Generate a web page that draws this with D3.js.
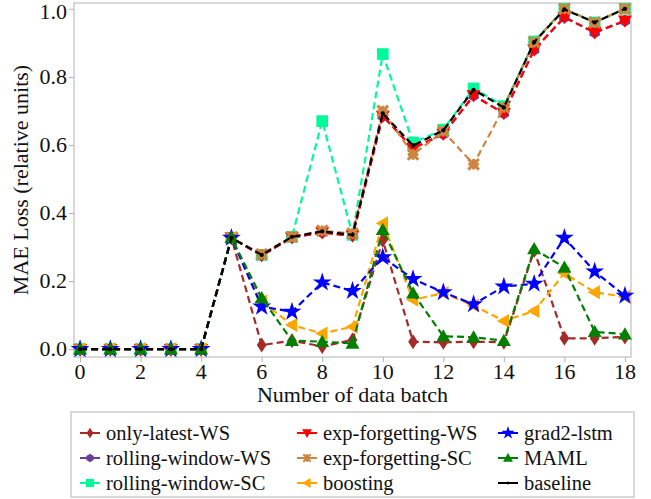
<!DOCTYPE html>
<html>
<head>
<meta charset="utf-8">
<script src="https://cdn.jsdelivr.net/npm/d3@7"></script>
<style>
  html, body { margin: 0; padding: 0; background: #fff; }
  svg { display: block; }
</style>
</head>
<body>
<svg id="chart" width="651" height="499"></svg>
<script>
// ---------- data ----------
const batches = [0,1,2,3,4,5,6,7,8,9,10,11,12,13,14,15,16,17,18];
const xTicks = [0,2,4,6,8,10,12,14,16,18];
const yTicks = [0.0,0.2,0.4,0.6,0.8,1.0];

const onlyLatestWS     = [0,0,0,0,0,0.327,0.012,0.025,0.008,0.027,0.32,0.022,0.02,0.022,0.02,0.29,0.032,0.032,0.036];
const rollingWindowWS  = [0,0,0,0,0,0.327,0.275,0.328,0.343,0.333,0.685,0.59,0.632,0.745,0.693,0.88,0.975,0.93,0.965];
const rollingWindowSC  = [0,0,0,0,0,0.327,0.277,0.33,0.67,0.336,0.867,0.607,0.645,0.766,0.714,0.904,1.0,0.96,1.0];
const expForgettingWS  = [0,0,0,0,0,0.327,0.275,0.328,0.343,0.333,0.685,0.59,0.632,0.745,0.693,0.88,0.975,0.93,0.965];
const expForgettingSC  = [0,0,0,0,0,0.327,0.279,0.33,0.348,0.34,0.70,0.572,0.64,0.543,0.71,0.902,1.0,0.96,1.0];
const boosting         = [0,0,0,0,0,0.327,0.14,0.071,0.046,0.066,0.37,0.145,0.165,0.128,0.083,0.112,0.223,0.167,0.154];
const grad2lstm        = [0,0,0,0,0,0.327,0.125,0.11,0.196,0.171,0.27,0.206,0.167,0.132,0.184,0.192,0.327,0.228,0.157];
const maml             = [0,0,0,0,0,0.327,0.15,0.025,0.022,0.017,0.351,0.164,0.038,0.035,0.025,0.294,0.24,0.051,0.044];
const baseline         = [0,0,0,0,0,0.327,0.277,0.33,0.346,0.336,0.693,0.598,0.643,0.762,0.71,0.902,0.998,0.96,1.0];

const seriesNames = ["only-latest-WS","rolling-window-WS","rolling-window-SC","exp-forgetting-WS",
                     "exp-forgetting-SC","boosting","grad2-lstm","MAML","baseline"];
const seriesValues = [onlyLatestWS, rollingWindowWS, rollingWindowSC, expForgettingWS,
                      expForgettingSC, boosting, grad2lstm, maml, baseline];
const seriesColors = ["#a52a2a","#6a3d9a","#00fa9a","#ff0000","#cd853f","#ffa500","#0000ff","#008000","#000000"];
const seriesMarkers = ["thinDiamond","pentagon","square","triangleDown","asterisk","triangleLeft","star","triangleUp","circle"];

const svg = d3.select("#chart");
function label(xp, yp, str, anchor, dy, fs) {
  return svg.append("text").attr("x", xp).attr("y", yp).attr("dy", dy || 0)
    .attr("text-anchor", anchor || "start")
    .style("font-family", '"Liberation Serif", monospace').style("font-size", (fs || 22) + "px")
    .attr("fill", "#111").text(str);
}

// ---------- scales ----------
const x = d3.scaleLinear().domain([-0.2, 18.2]).range([74, 631]);
const y = d3.scaleLinear().domain([-0.023, 1.017]).range([357, 3]);

// ---------- marker shapes ----------
function polygon(pts) { return "M" + pts.map(p => p[0].toFixed(2) + "," + p[1].toFixed(2)).join("L") + "Z"; }
function markerPath(kind, s) {
  switch (kind) {
    case "thinDiamond": return polygon([[0,-s*1.15],[s*0.75,0],[0,s*1.15],[-s*0.75,0]]);
    case "pentagon": {
      const pts = d3.range(6).map(i => { const a = Math.PI/6 + i*Math.PI/3; return [s*Math.cos(a), s*Math.sin(a)]; });
      return polygon(pts);
    }
    case "square": return polygon([[-s*0.9,-s*0.9],[s*0.9,-s*0.9],[s*0.9,s*0.9],[-s*0.9,s*0.9]]);
    case "triangleDown": return polygon([[-s,-s*0.75],[s,-s*0.75],[0,s*1.0]]);
    case "triangleUp": return polygon([[-s,s*0.75],[s,s*0.75],[0,-s*1.0]]);
    case "triangleLeft": return polygon([[s*0.75,-s],[s*0.75,s],[-s*1.0,0]]);
    case "star": return d3.symbol(d3.symbolStar, s*s*2.6)();
    case "circle": return d3.symbol(d3.symbolCircle, s*s*0.9)();
    case "asterisk": {
      const w = s*0.2, L = s*1.0;
      let d = "";
      [Math.PI/4, -Math.PI/4, 0, Math.PI/2].forEach((a, k) => {
        const len = k < 2 ? L : L*0.7;
        const c = Math.cos(a), sn = Math.sin(a);
        const pts = [[-len,-w],[len,-w],[len,w],[-len,w]].map(p => [p[0]*c - p[1]*sn, p[0]*sn + p[1]*c]);
        d += polygon(pts);
      });
      return d;
    }
  }
}
const markerSize = {thinDiamond:6.5, pentagon:6, square:6.5, triangleDown:7, triangleUp:7, triangleLeft:7, star:6.5, circle:4, asterisk:7.5};

// ---------- frame & axes ----------
const [x0, x1] = x.range();
const [yb, yt] = y.range();
svg.append("rect").attr("x", x0).attr("y", yt).attr("width", x1 - x0).attr("height", yb - yt)
  .attr("fill", "none").attr("stroke", "#cccccc").attr("stroke-width", 1.5);

const xAxis = svg.append("g").attr("transform", `translate(0,${yb})`)
  .call(d3.axisBottom(x).tickValues(xTicks).tickSize(5).tickFormat(""));
const yAxis = svg.append("g").attr("transform", `translate(${x0},0)`)
  .call(d3.axisLeft(y).tickValues(yTicks).tickSize(5).tickFormat(""));
[xAxis, yAxis].forEach(g => {
  g.select(".domain").remove();
  g.selectAll(".tick line").attr("stroke", "#b0b0b0").attr("stroke-width", 1);
  g.selectAll(".tick text").remove();
});
const fx = d3.format("d"), fy = d3.format(".1f");
xTicks.forEach(t => label(x(t), yb + 5, fx(t), "middle", "0.76em"));
yTicks.forEach(t => label(x0 - 7, y(t), fy(t), "end", t === 1.0 ? "0.45em" : "0.32em"));

label((x0 + x1) / 2, 402, "Number of data batch", "middle");
label(0, 0, "MAE Loss (relative units)", "middle")
  .attr("transform", `translate(28,${(yb + yt) / 2}) rotate(-90)`);

// ---------- series ----------
const line = d3.line().x((d, i) => x(batches[i])).y(d => y(d));
const plot = svg.append("g");
seriesValues.forEach((vals, si) => {
  const g = plot.append("g");
  g.append("path").attr("d", line(vals)).attr("fill", "none")
    .attr("stroke", seriesColors[si]).attr("stroke-width", 2.2).attr("stroke-dasharray", "7,4");
  g.selectAll("path.m").data(vals).join("path").attr("class", "m")
    .attr("transform", (d, i) => `translate(${x(batches[i])},${y(d)})`)
    .attr("d", markerPath(seriesMarkers[si], markerSize[seriesMarkers[si]]))
    .attr("fill", seriesColors[si]);
});

// ---------- legend ----------
svg.append("rect").attr("x", 71).attr("y", 412).attr("width", 563).attr("height", 85)
  .attr("fill", "#fff").attr("stroke", "#cccccc").attr("stroke-width", 1.5);
const colX = [80, 297, 498];
const rowY = [433, 458, 483];
seriesNames.forEach((name, si) => {
  const col = Math.floor(si / 3), row = si % 3;
  const gx = colX[col], gy = rowY[row];
  svg.append("line").attr("x1", gx).attr("x2", gx + 20).attr("y1", gy).attr("y2", gy)
    .attr("stroke", seriesColors[si]).attr("stroke-width", 2);
  svg.append("path").attr("transform", `translate(${gx + 10},${gy})`)
    .attr("d", markerPath(seriesMarkers[si], markerSize[seriesMarkers[si]] * 0.7))
    .attr("fill", seriesColors[si]);
  label(gx + 26, gy, name, "start", "0.35em", 20.5);
});
</script>
</body>
</html>
